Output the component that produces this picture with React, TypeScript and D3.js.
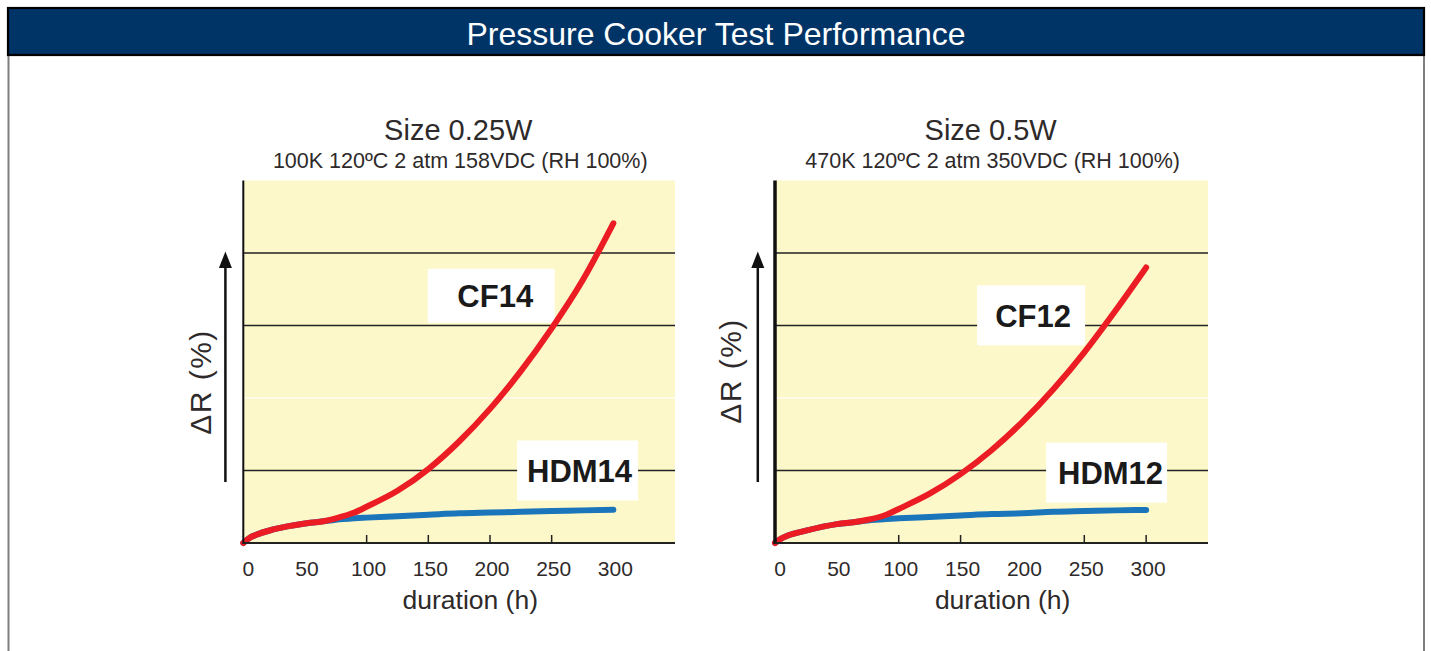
import * as d3 from 'd3'

// duration (h) sampled along both curves
const hours = [0, 5, 10, 25, 50, 65, 75, 90, 100, 125, 150, 175, 200, 225, 250, 275, 300]

// ΔR readings, size 0.25W
const cf14 = [0, 0.07, 0.11, 0.19, 0.27, 0.3, 0.34, 0.42, 0.5, 0.72, 1.02, 1.4, 1.85, 2.37, 2.96, 3.62, 4.41]
const hdm14 = [0, 0.07, 0.11, 0.19, 0.27, 0.3, 0.32, 0.34, 0.35, 0.37, 0.39, 0.41, 0.42, 0.43, 0.44, 0.45, 0.46]

// ΔR readings, size 0.5W
const cf12 = [0, 0.06, 0.1, 0.17, 0.26, 0.29, 0.32, 0.39, 0.47, 0.68, 0.95, 1.28, 1.67, 2.12, 2.63, 3.2, 3.8]
const hdm12 = [0, 0.06, 0.1, 0.17, 0.26, 0.29, 0.31, 0.33, 0.34, 0.36, 0.38, 0.4, 0.41, 0.43, 0.44, 0.45, 0.455]

const xTickLabels = [0, 50, 100, 150, 200, 250, 300]
const gridValues = [1, 3, 4]
const faintGridValues = [2]

const FONT = '"Liberation Sans", Arial, sans-serif'
const NAVY = '#003466'
const PLOT_BG = '#fdf8c9'
const RED = '#ec1c24'
const BLUE = '#1b75bb'
const TEXT = '#2e2a2a'

type Label = { text: string; h: number; v: number; w: number; hgt: number; dx: number }

type PanelProps = {
  title: string
  subtitle: string
  x0: number
  x1: number
  axisWidth: number
  tickMarks: number[]
  upper: number[]
  lower: number[]
  labels: Label[]
  yLabelX: number
  yLabelY: number
  arrowX: number
}

function Panel({ title, subtitle, x0, x1, axisWidth, tickMarks, upper, lower, labels, yLabelX, yLabelY, arrowX }: PanelProps) {
  const x = d3.scaleLinear().domain([0, 350]).range([x0, x1])
  const y = d3.scaleLinear().domain([0, 5]).range([543, 180.5])
  const cx = x(184)

  const line = d3
    .line<[number, number]>()
    .x((d) => x(d[0]))
    .y((d) => y(d[1]))
    .curve(d3.curveMonotoneX)

  const upperPts = hours.map((h, i) => [h, upper[i]] as [number, number])
  const lowerPts = hours.map((h, i) => [h, lower[i]] as [number, number])

  return (
    <g fontFamily={FONT}>
      <text x={cx - 12} y={139.5} textAnchor="middle" fontSize={29} fill={TEXT}>
        {title}
      </text>
      <text x={cx - 10} y={167.5} textAnchor="middle" fontSize={21.5} fill={TEXT}>
        {subtitle}
      </text>

      <rect x={x0} y={y(5)} width={x1 - x0} height={y(0) - y(5)} fill={PLOT_BG} />

      {faintGridValues.map((v) => (
        <line key={'f' + v} x1={x0} x2={x1} y1={y(v)} y2={y(v)} stroke="#fffdf0" strokeWidth={1.5} />
      ))}
      {gridValues.map((v) => (
        <line key={'g' + v} x1={x0} x2={x1} y1={y(v)} y2={y(v)} stroke="#222" strokeWidth={1.5} />
      ))}

      {labels.map((l) => (
        <rect
          key={'b' + l.text}
          x={x(l.h) - l.w / 2}
          y={y(l.v) - l.hgt / 2}
          width={l.w}
          height={l.hgt}
          fill="#fff"
        />
      ))}

      {tickMarks.map((t) => (
        <line key={'t' + t} x1={x(t)} x2={x(t)} y1={y(0)} y2={y(0) - 8} stroke="#222" strokeWidth={1.5} />
      ))}

      <path d={line(lowerPts) ?? ''} fill="none" stroke={BLUE} strokeWidth={6} strokeLinecap="round" />
      <path d={line(upperPts) ?? ''} fill="none" stroke={RED} strokeWidth={6} strokeLinecap="round" />

      <line x1={x0} x2={x0} y1={y(5)} y2={y(0) + 1} stroke="#111" strokeWidth={axisWidth} />
      <line x1={x0} x2={x1} y1={y(0)} y2={y(0)} stroke="#222" strokeWidth={2} />

      {labels.map((l) => (
        <text
          key={'l' + l.text}
          x={x(l.h) + l.dx}
          y={y(l.v) + 11.5}
          textAnchor="middle"
          fontSize={31}
          fontWeight="bold"
          fill="#1a1a1a"
        >
          {l.text}
        </text>
      ))}

      {xTickLabels.map((t) => (
        <text key={'x' + t} x={x(t) + (t === 0 ? 5 : 2)} y={575.5} textAnchor="middle" fontSize={21} fill={TEXT}>
          {t}
        </text>
      ))}
      <text x={cx} y={609} textAnchor="middle" fontSize={26.5} fill={TEXT}>
        duration (h)
      </text>

      <text
        transform={`translate(${yLabelX},${yLabelY}) rotate(-90)`}
        textAnchor="middle"
        fontSize={30}
        letterSpacing={1.5}
        fill={TEXT}
      >
        ΔR (%)
      </text>

      <line x1={arrowX} x2={arrowX} y1={482} y2={264} stroke="#111" strokeWidth={2.5} />
      <path d={`M${arrowX},251.5 L${arrowX - 6.5},268 L${arrowX + 6.5},268 Z`} fill="#111" />
    </g>
  )
}

export default function App() {
  return (
    <div style={{ position: 'absolute', left: 0, top: 0 }}>
      <svg width={1431} height={651} style={{ display: 'block', background: '#fff' }}>
        <line x1={8.5} x2={8.5} y1={56} y2={651} stroke="#7f7f7f" strokeWidth={2} />
        <line x1={1424} x2={1424} y1={56} y2={651} stroke="#7f7f7f" strokeWidth={2} />
        <rect x={8} y={8} width={1416} height={47} fill={NAVY} stroke="#000" strokeWidth={2.2} />
        <text x={716} y={44.5} textAnchor="middle" fontSize={32} fill="#fff" fontFamily={FONT}>
          Pressure Cooker Test Performance
        </text>

        <Panel
          title="Size 0.25W"
          subtitle="100K 120ºC 2 atm 158VDC (RH 100%)"
          x0={243.3}
          x1={675}
          axisWidth={2}
          tickMarks={[100, 150, 200, 250]}
          upper={cf14}
          lower={hdm14}
          labels={[
            { text: 'CF14', h: 201, v: 3.41, w: 127, hgt: 54, dx: 4 },
            { text: 'HDM14', h: 271, v: 1.0, w: 121, hgt: 60, dx: 2 },
          ]}
          yLabelX={211}
          yLabelY={382}
          arrowX={225.4}
        />
        <Panel
          title="Size 0.5W"
          subtitle="470K 120ºC 2 atm 350VDC (RH 100%)"
          x0={775}
          x1={1208}
          axisWidth={3.5}
          tickMarks={[100, 150, 250, 300]}
          upper={cf12}
          lower={hdm12}
          labels={[
            { text: 'CF12', h: 207, v: 3.14, w: 108, hgt: 60, dx: 2 },
            { text: 'HDM12', h: 268, v: 0.97, w: 121, hgt: 60, dx: 4 },
          ]}
          yLabelX={741}
          yLabelY={371}
          arrowX={757.8}
        />
      </svg>
    </div>
  )
}
